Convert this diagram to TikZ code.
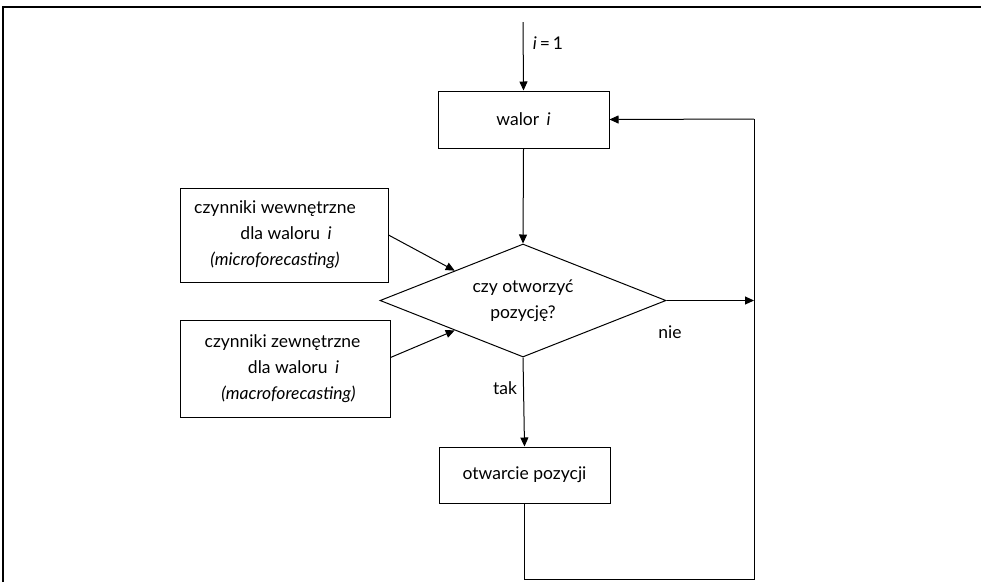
\documentclass[tikz,border=0pt]{standalone}
\usepackage{fontspec}
\setmainfont{Lato}
\usetikzlibrary{shapes.geometric,arrows.meta,calc}
\begin{document}
\begin{tikzpicture}[x=1pt,y=-1pt,
  font=\fontsize{17.5}{26}\selectfont,
  line width=1pt,
  box/.style={draw, rectangle, inner sep=0pt, align=center},
  dec/.style={draw, diamond, aspect=2.5, inner sep=0pt, align=center,
    minimum width=286pt, minimum height=113pt},
  arr/.style={-{Triangle[length=9pt,width=8pt]}},
  lbl/.style={inner sep=0pt}]
\useasboundingbox (0,0) rectangle (981,582);
% outer frame (only top and left edges visible)
\draw[line width=1.5pt] (3,582) -- (3,7) -- (981,7);
% nodes
\node[box, minimum width=171pt, minimum height=57pt] (w) at (523.5,119.5) {walor \,\textit{i}};
\node[dec] (d) at (523,300.5) {czy otworzyć\\pozycję?};
\node[box, minimum width=171pt, minimum height=56pt] (o) at (524.5,475) {otwarcie pozycji};
\node[box, minimum width=208pt, minimum height=94pt] (b1) at (284,235)
  {czynniki wewnętrzne\hspace*{18pt}\\\hspace*{4pt}dla waloru \,\textit{i}\\\textit{(microforecasting)}\hspace*{18pt}};
\node[box, minimum width=210pt, minimum height=97pt] (b2) at (285,368.5)
  {czynniki zewnętrzne\hspace*{5pt}\\\hspace*{17pt}dla waloru \,\textit{i}\\\hspace*{7pt}\textit{(macroforecasting)}};
% coordinates
\coordinate (start) at (523,22);
\coordinate (rt) at (754,119);
\coordinate (rb) at (754,579);
\coordinate (d1) at ($(d.west)!0.524!(d.north)$);
\coordinate (d2) at ($(d.west)!0.524!(d.south)$);
% connectors
\draw[arr] (start) -- (w.north);
\draw[arr] (w.south) -- (d.north);
\draw[arr] (d.south) -- (o.north);
\draw[arr] (b1.east) -- (d1);
\draw[arr] ([yshift=11pt]b2.east) -- (d2);
\draw[arr] (d.east) -- (d.east -| rt);
\draw (o.south) |- (rb) -- (rt);
\draw[arr] (rt) -- (w.east);
% labels
\node[lbl] (l1) at (548,43) {\textit{i}\,=\,1};
\node[lbl] (lnie) at (670,332) {nie};
\node[lbl] (ltak) at (505,388) {tak};
\end{tikzpicture}
\end{document}
